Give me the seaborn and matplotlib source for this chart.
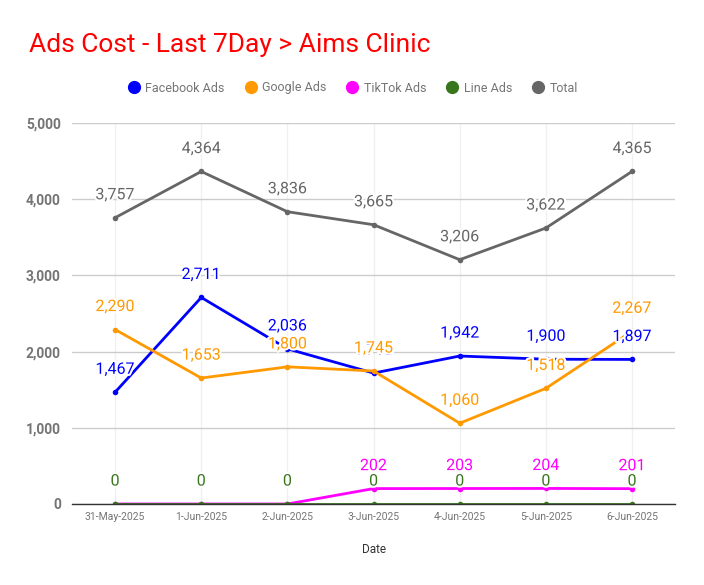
import matplotlib
matplotlib.use("Agg")
import matplotlib.pyplot as plt
import matplotlib.patheffects as pe
from matplotlib.lines import Line2D
import seaborn as sns
import pandas as pd

dates = ["31-May-2025", "1-Jun-2025", "2-Jun-2025", "3-Jun-2025", "4-Jun-2025", "5-Jun-2025", "6-Jun-2025"]
facebook = [1467, 2711, 2036, 1718, 1942, 1900, 1897]
google = [2290, 1653, 1800, 1745, 1060, 1518, 2267]
tiktok = [0, 0, 0, 202, 203, 204, 201]
line_ads = [0, 0, 0, 0, 0, 0, 0]
total = [3757, 4364, 3836, 3665, 3206, 3622, 4365]

series_names = ["Facebook Ads", "Google Ads", "TikTok Ads", "Line Ads", "Total"]
series_values = [facebook, google, tiktok, line_ads, total]
colors = ["#0000ff", "#ff9900", "#ff00ff", "#38761d", "#666666"]

sns.set_theme(style="white")
plt.rcParams['font.family'] = ['Roboto', 'DejaVu Sans']

rows = []
for name, vals in zip(series_names, series_values):
    for i, (d, v) in enumerate(zip(dates, vals)):
        rows.append({"Date": d, "idx": i, "Series": name, "Value": v})
df = pd.DataFrame(rows)

fig = plt.figure(figsize=(7.04, 5.85), dpi=100)
ax = fig.add_axes([0.1023, 0.1385, 0.8567, 0.6512])

palette = dict(zip(series_names, colors))
sns.lineplot(data=df, x="idx", y="Value", hue="Series", palette=palette,
             hue_order=series_names, marker="o", markersize=4, markeredgewidth=0,
             linewidth=2, legend=False, ax=ax, sort=False)

ax.set_xlim(-0.5, len(dates) - 0.5)
ax.set_ylim(0, 5000)
ax.set_yticks([0, 1000, 2000, 3000, 4000, 5000])
ax.set_yticklabels([f"{v:,}" for v in [0, 1000, 2000, 3000, 4000, 5000]],
                   fontsize=10, fontweight="bold", color="#757575")
ax.set_xticks(range(len(dates)))
ax.set_xticklabels(dates, fontsize=7.5, color="#757575")
ax.tick_params(axis="both", length=0, pad=6)
ax.tick_params(axis="y", pad=8)

ax.grid(axis="y", color="#cccccc", linewidth=1)
ax.grid(axis="x", color="#f0f0f0", linewidth=1)
ax.set_axisbelow(True)
for s in ["top", "right", "left"]:
    ax.spines[s].set_visible(False)
ax.spines["bottom"].set_color("#333333")
ax.spines["bottom"].set_linewidth(1)

ax.set_xlabel("Date", fontsize=8.5, color="#333333", labelpad=15)
ax.set_ylabel("")

for name, vals, c in zip(series_names, series_values, colors):
    for i, v in enumerate(vals):
        ax.annotate(f"{v:,}", (i, v), xytext=(0, 16.5), textcoords="offset points",
                    ha="center", va="center", fontsize=11.5, color=c,
                    path_effects=[pe.withStroke(linewidth=3, foreground="white")],
                    annotation_clip=False)

fig.text(29 / 704, 1 - 45 / 585, "Ads Cost - Last 7Day > Aims Clinic", color="#ff0000",
         fontsize=19, ha="left", va="center")

handles = [Line2D([0], [0], marker="o", linestyle="none", markersize=8.5,
                  markerfacecolor=c, markeredgecolor=c) for c in colors]
fig.legend(handles, series_names, loc="center", bbox_to_anchor=(352 / 704, 1 - 88 / 585),
           ncol=5, frameon=False, fontsize=9, labelcolor="#757575",
           handletextpad=0.3, columnspacing=1.5, handlelength=1.2)

fig.savefig("out.png", dpi=100)
